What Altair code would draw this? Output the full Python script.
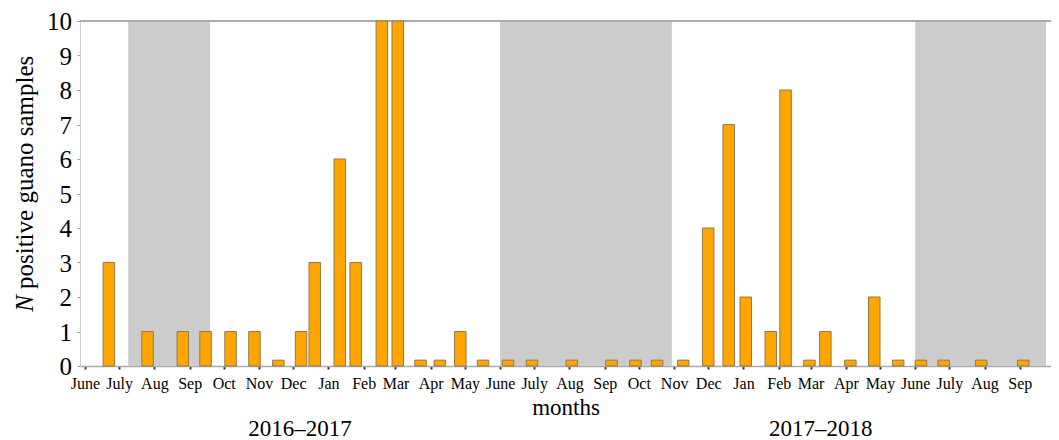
import altair as alt
import pandas as pd

# ---------------- data ----------------
bar_dates = ["2016-06-22", "2016-07-26", "2016-08-26", "2016-09-15", "2016-10-07",
             "2016-10-28", "2016-11-18", "2016-12-08", "2016-12-20", "2017-01-11",
             "2017-01-25", "2017-02-17", "2017-03-03", "2017-03-23", "2017-04-09",
             "2017-04-27", "2017-05-17", "2017-06-08", "2017-06-29", "2017-08-03",
             "2017-09-07", "2017-09-28", "2017-10-17", "2017-11-09", "2017-12-01",
             "2017-12-19", "2018-01-03", "2018-01-25", "2018-02-07", "2018-02-28",
             "2018-03-14", "2018-04-05", "2018-04-26", "2018-05-17", "2018-06-06",
             "2018-06-26", "2018-07-29", "2018-09-04"]
counts = [3, 1, 1, 1, 1, 1, 0, 1, 3, 6,
          3, 10, 10, 0, 0, 1, 0, 0, 0, 0,
          0, 0, 0, 0, 4, 7, 2, 1, 8, 0,
          1, 0, 2, 0, 0, 0, 0, 0]

shade_start = ["2016-07-09", "2017-06-01", "2018-06-01"]
shade_end = ["2016-09-19", "2017-10-30", "2018-09-24"]

month_names = ["Jan", "Feb", "Mar", "Apr", "May", "June", "July",
               "Aug", "Sep", "Oct", "Nov", "Dec"]
y_ticks = list(range(0, 11))

year_labels = ["2016\u20132017", "2017\u20132018"]
year_label_dates = ["2016-12-07", "2018-03-10"]

x_title = "months"
y_title_italic = "N"
y_title_rest = "positive guano samples"

# ---------------- layout / style ----------------
W, H = 971, 345
FONT = "Liberation Serif"

bars_df = pd.DataFrame({"date": bar_dates, "n": counts})
shade_df = pd.DataFrame({"start": shade_start, "end": shade_end})
years_df = pd.DataFrame({"date": year_label_dates, "label": year_labels})
yticks_df = pd.DataFrame({"v": y_ticks})

xscale = alt.Scale(
    type="utc",
    domain=[alt.DateTime(year=2016, month=6, date=1, utc=True),
            alt.DateTime(year=2018, month=9, date=24, utc=True)],
    nice=False,
)
yscale = alt.Scale(domain=[0, 10], nice=False)

label_expr = "[" + ",".join("'%s'" % m for m in month_names) + "][utcmonth(datum.value)]"

xaxis = alt.Axis(
    tickCount={"interval": "month", "step": 1},
    labelExpr=label_expr,
    title=x_title,
    titleFont=FONT, titleFontSize=23, titleFontWeight="normal", titlePadding=5,
    titleColor="black",
    labelFont=FONT, labelFontSize=16, labelPadding=6, labelColor="black",
    labelFlush=False, labelOverlap=False,
    tickSize=3, tickWidth=2, tickColor="#333333",
    domainColor="#aaaaaa", domainWidth=1.5, grid=False,
)
yaxis = alt.Axis(
    values=y_ticks, title=None, labels=False,
    tickSize=3, tickColor="#999999", domainColor="#d0d0d0", grid=False,
)

shade = alt.Chart(shade_df).mark_rect(color="#cccccc").encode(
    x=alt.X("start:T", scale=xscale, axis=xaxis),
    x2="end:T",
)

top_line = alt.Chart(shade_df).mark_rule(color="#aaaaaa", strokeWidth=1.5).encode(
    y=alt.value(0)
)

bars = alt.Chart(bars_df).transform_calculate(
    h="max(datum.n, 0.17)"
).mark_bar(size=11.5, fill="#FFA500", stroke="#95794c", strokeWidth=1).encode(
    x=alt.X("date:T", scale=xscale, axis=xaxis),
    y=alt.Y("h:Q", scale=yscale, axis=yaxis),
)

ylabels = alt.Chart(yticks_df).mark_text(
    font=FONT, fontSize=25, color="black", align="right", baseline="middle", dy=1
).encode(
    x=alt.value(-8),
    y=alt.Y("v:Q", scale=yscale, axis=yaxis),
    text="v:Q",
)

years = alt.Chart(years_df).mark_text(
    font=FONT, fontSize=23, color="black", baseline="alphabetic", align="center"
).encode(
    x=alt.X("date:T", scale=xscale, axis=xaxis),
    y=alt.value(415),
    text="label:N",
)

ytitle_n = alt.Chart(pd.DataFrame({"t": [y_title_italic]})).mark_text(
    font=FONT, fontSize=25, fontStyle="italic", color="black",
    angle=270, align="right", baseline="alphabetic"
).encode(x=alt.value(-47), y=alt.value(274), text="t:N")

ytitle_rest = alt.Chart(pd.DataFrame({"t": [y_title_rest]})).mark_text(
    font=FONT, fontSize=25, color="black",
    angle=270, align="left", baseline="alphabetic"
).encode(x=alt.value(-47), y=alt.value(268), text="t:N")

chart = alt.layer(shade, top_line, bars, ylabels, years, ytitle_n, ytitle_rest).properties(
    width=W, height=H,
    autosize=alt.AutoSizeParams(type="none"),
    padding={"left": 72, "top": 13, "right": 0, "bottom": 74},
).configure_view(stroke=None).configure(
    background="white"
).configure_axis(labelFont=FONT, titleFont=FONT).configure_text(font=FONT)

chart.save("out.html", embed_options={"renderer": "svg", "actions": False})
